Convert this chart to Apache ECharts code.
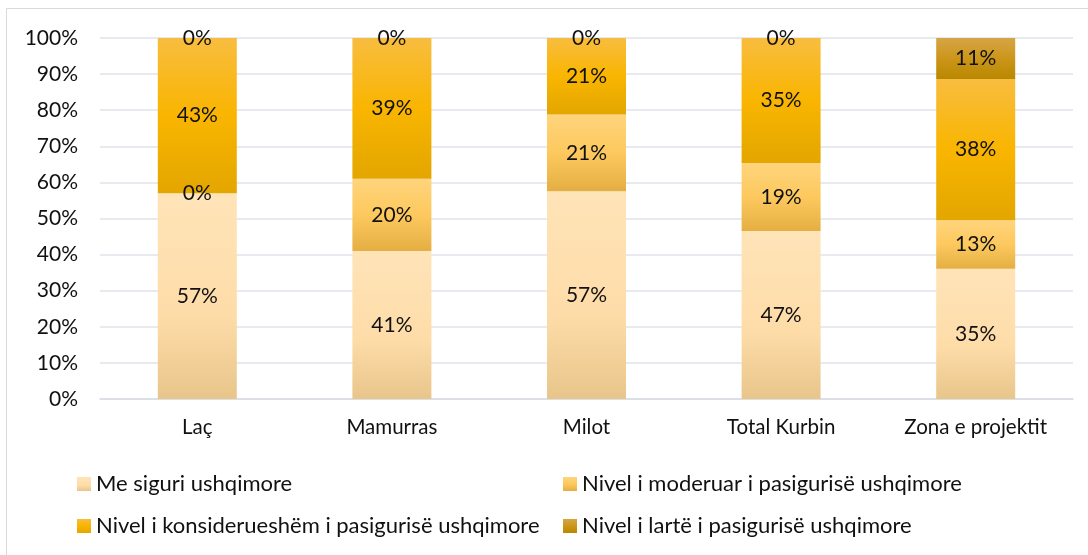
<!DOCTYPE html>
<html>
<head>
<meta charset="utf-8">
<script src="https://cdn.jsdelivr.net/npm/echarts@6/dist/echarts.min.js"></script>
<style>
  html, body { margin: 0; padding: 0; background: #fff; }
  #chart { width: 1088px; height: 555px; }
</style>
</head>
<body>
<div id="chart"></div>
<script>
  // zonat
  const categories = ['Laç', 'Mamurras', 'Milot', 'Total Kurbin', 'Zona e projektit']
  // vlerat ne % (sic jane ne etiketa)
  const meSiguri = [57, 41, 57, 47, 35]
  const moderuar = [0, 20, 21, 19, 13]
  const konsiderueshem = [43, 39, 21, 35, 38]
  const larte = [0, 0, 0, 0, 11]
  const seriesNames = [
    'Me siguri ushqimore',
    'Nivel i moderuar i pasigurisë ushqimore',
    'Nivel i konsiderueshëm i pasigurisë ushqimore',
    'Nivel i lartë i pasigurisë ushqimore'
  ]
  const yTicks = { min: 0, max: 100, interval: 10 }

  const raw = [meSiguri, moderuar, konsiderueshem, larte]
  // 100% stacked: normalize each column to its total
  const totals = categories.map((c, i) => raw.reduce((s, arr) => s + arr[i], 0))
  const shares = raw.map(arr => arr.map((v, i) => v / totals[i] * 100))

  const grad = (stops) => ({
    type: 'linear', x: 0, y: 0, x2: 0, y2: 1,
    colorStops: stops.map(s => ({ offset: s[0], color: s[1] }))
  })
  const colors = [
    grad([[0, '#FFE4B8'], [0.6, '#FEDCA8'], [1, '#E8C58A']]),
    grad([[0, '#FFD47C'], [0.5, '#FDC95E'], [1, '#E4AE42']]),
    grad([[0, '#F8BD40'], [0.5, '#F9B500'], [1, '#E3A600']]),
    grad([[0, '#D6A546'], [0.5, '#CC961A'], [1, '#B98800']])
  ]
  const font = 'Lato'
  const txt = '#111'

  const series = shares.map((data, k) => ({
    name: seriesNames[k],
    type: 'bar',
    stack: 'total',
    barWidth: 79,
    data: data,
    itemStyle: { color: colors[k] },
    label: {
      show: true,
      position: 'inside',
      fontFamily: font,
      fontSize: 21,
      color: txt,
      formatter: p => raw[k][p.dataIndex] + '%'
    }
  }))

  const legendPos = [
    { left: 77, top: 473 },
    { left: 563, top: 473 },
    { left: 77, top: 515 },
    { left: 563, top: 515 }
  ]
  const legends = seriesNames.map((name, k) => ({
    data: [name],
    left: legendPos[k].left,
    top: legendPos[k].top,
    padding: 0,
    icon: 'rect',
    itemWidth: 14,
    itemHeight: 14,
    itemGap: 6,
    selectedMode: false,
    textStyle: { fontFamily: font, fontSize: 22, color: txt }
  }))

  const chart = echarts.init(document.getElementById('chart'))
  chart.setOption({
    animation: false,
    graphic: [{
      type: 'rect',
      shape: { x: 6.5, y: 8.5, width: 1100, height: 600 },
      style: { fill: 'none', stroke: '#d9d9d9', lineWidth: 1 },
      silent: true
    }],
    grid: { left: 100, right: 15, top: 38, bottom: 156 },
    legend: legends,
    xAxis: {
      type: 'category',
      data: categories,
      axisTick: { show: false },
      axisLine: { lineStyle: { color: '#d9dde3', width: 1.5 } },
      axisLabel: { fontFamily: font, fontSize: 20.5, color: txt, margin: 18 }
    },
    yAxis: {
      type: 'value',
      min: yTicks.min,
      max: yTicks.max,
      interval: yTicks.interval,
      axisLine: { show: false },
      axisTick: { show: false },
      axisLabel: { fontFamily: font, fontSize: 21, color: txt, margin: 22, formatter: '{value}%' },
      splitLine: { lineStyle: { color: '#dfe3e9', width: 1.5 } }
    },
    series
  })
</script>
</body>
</html>
